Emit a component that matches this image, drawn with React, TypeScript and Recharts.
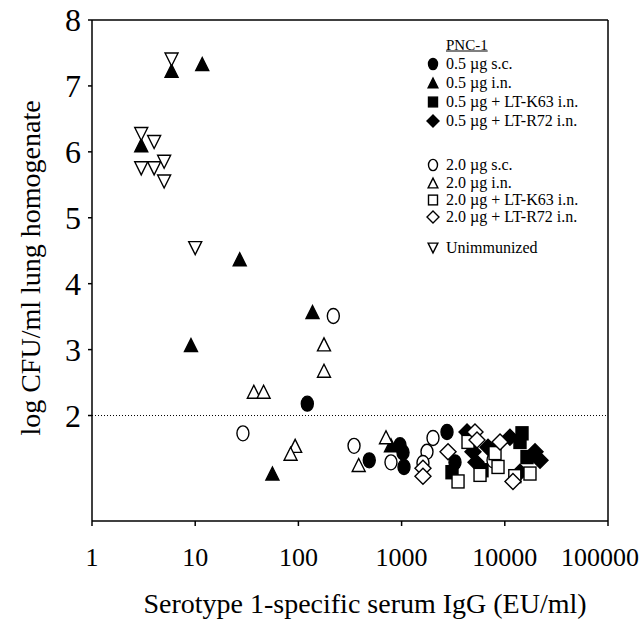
import {
  Legend,
  ReferenceLine,
  Scatter,
  ScatterChart,
  XAxis,
  YAxis,
} from "recharts";

const FONT = "Liberation Serif, DejaVu Serif, serif";

// x = serotype 1-specific serum IgG (EU/ml), y = log CFU/ml lung homogenate
const sc05 = [
  { x: 122, y: 2.18 },
  { x: 486, y: 1.32 },
  { x: 965, y: 1.55 },
  { x: 1032, y: 1.44 },
  { x: 1055, y: 1.22 },
  { x: 2754, y: 1.75 },
  { x: 3291, y: 1.29 },
];
const in05 = [
  { x: 5.9, y: 7.23 },
  { x: 11.7, y: 7.33 },
  { x: 3, y: 6.1 },
  { x: 27, y: 4.37 },
  { x: 137, y: 3.57 },
  { x: 9.1, y: 3.07 },
  { x: 56, y: 1.12 },
  { x: 789, y: 1.55 },
];
const k63_05 = [
  { x: 3079, y: 1.14 },
  { x: 6013, y: 1.17 },
  { x: 14680, y: 1.73 },
  { x: 14030, y: 1.6 },
  { x: 16410, y: 1.37 },
];
const r72_05 = [
  { x: 4305, y: 1.75 },
  { x: 4918, y: 1.45 },
  { x: 6876, y: 1.52 },
  { x: 11220, y: 1.67 },
  { x: 19630, y: 1.45 },
  { x: 21940, y: 1.32 },
  { x: 14030, y: 1.14 },
  { x: 5260, y: 1.29 },
];
const sc20 = [
  { x: 218, y: 3.51 },
  { x: 29, y: 1.73 },
  { x: 346, y: 1.54 },
  { x: 789, y: 1.29 },
  { x: 2015, y: 1.66 },
  { x: 1762, y: 1.45 },
  { x: 1611, y: 1.28 },
  { x: 7687, y: 1.32 },
];
const in20 = [
  { x: 177, y: 3.08 },
  { x: 177, y: 2.68 },
  { x: 37, y: 2.36 },
  { x: 46, y: 2.36 },
  { x: 93, y: 1.54 },
  { x: 84, y: 1.42 },
  { x: 384, y: 1.25 },
  { x: 706, y: 1.67 },
];
const k63_20 = [
  { x: 3523, y: 1.0 },
  { x: 4400, y: 1.6 },
  { x: 5754, y: 1.1 },
  { x: 8039, y: 1.43 },
  { x: 8596, y: 1.22 },
  { x: 17540, y: 1.12 },
  { x: 12500, y: 1.08 },
];
const r72_20 = [
  { x: 1611, y: 1.2 },
  { x: 1611, y: 1.08 },
  { x: 2818, y: 1.45 },
  { x: 5143, y: 1.75 },
  { x: 5379, y: 1.63 },
  { x: 8988, y: 1.6 },
  { x: 12000, y: 1.0 },
];
const unimmunized = [
  { x: 5.9, y: 7.4 },
  { x: 3, y: 6.27 },
  { x: 4, y: 6.15 },
  { x: 3, y: 5.75 },
  { x: 4, y: 5.75 },
  { x: 5, y: 5.85 },
  { x: 5, y: 5.55 },
  { x: 10, y: 4.54 },
];

const X_TICKS = [1, 10, 100, 1000, 10000, 100000];
const Y_TICKS = [2, 3, 4, 5, 6, 7, 8];

type Kind = "circle" | "triangle" | "square" | "diamond" | "down";

const SERIES: { name: string; kind: Kind; filled: boolean; data: any[] }[] = [
  { name: "0.5 \u00b5g s.c.", kind: "circle", filled: true, data: sc05 },
  { name: "0.5 \u00b5g i.n.", kind: "triangle", filled: true, data: in05 },
  { name: "0.5 \u00b5g + LT-K63 i.n.", kind: "square", filled: true, data: k63_05 },
  { name: "0.5 \u00b5g + LT-R72 i.n.", kind: "diamond", filled: true, data: r72_05 },
  { name: "2.0 \u00b5g s.c.", kind: "circle", filled: false, data: sc20 },
  { name: "2.0 \u00b5g i.n.", kind: "triangle", filled: false, data: in20 },
  { name: "2.0 \u00b5g + LT-K63 i.n.", kind: "square", filled: false, data: k63_20 },
  { name: "2.0 \u00b5g + LT-R72 i.n.", kind: "diamond", filled: false, data: r72_20 },
  { name: "Unimmunized", kind: "down", filled: false, data: unimmunized },
];

const marker = (kind: Kind, filled: boolean, cx: number, cy: number, s = 1) => {
  const fill = filled ? "#000" : "#fff";
  const common = { fill, stroke: "#000", strokeWidth: 1.4 };
  if (kind === "circle")
    return <ellipse cx={cx} cy={cy} rx={6 * s} ry={7.5 * s} {...common} />;
  if (kind === "square")
    return <rect x={cx - 6 * s} y={cy - 6.5 * s} width={12 * s} height={13 * s} {...common} />;
  if (kind === "diamond") {
    const r = 8 * s;
    return (
      <polygon
        points={`${cx},${cy - r} ${cx + r},${cy} ${cx},${cy + r} ${cx - r},${cy}`}
        {...common}
      />
    );
  }
  const w = 6.5 * s;
  const h = 6.5 * s;
  if (kind === "triangle")
    return (
      <polygon
        points={`${cx},${cy - h} ${cx + w},${cy + h} ${cx - w},${cy + h}`}
        {...common}
      />
    );
  return (
    <polygon
      points={`${cx - w},${cy - h} ${cx + w},${cy - h} ${cx},${cy + h}`}
      {...common}
    />
  );
};

const shapeFor = (kind: Kind, filled: boolean) => (props: any) =>
  marker(kind, filled, props.cx, props.cy);

const XTick = ({ x, y, payload, index }: any) => {
  const last = index === X_TICKS.length - 1;
  return (
    <text
      x={last ? 639 : x}
      y={y + 38}
      textAnchor={last ? "end" : "middle"}
      style={{ fontFamily: FONT }}
      fontSize={26}
      fill="#000"
    >
      {payload.value}
    </text>
  );
};

const YTick = ({ x, y, payload }: any) => (
  <text
    x={x - 5}
    y={y + 11}
    textAnchor="end"
    style={{ fontFamily: FONT }}
    fontSize={32}
    fill="#000"
  >
    {payload.value}
  </text>
);

const renderYTitle = () => (
  <text
    transform="translate(40,268) rotate(-90)"
    textAnchor="middle"
    style={{ fontFamily: FONT }}
    fontSize={28}
    fill="#000"
  >
    log CFU/ml lung homogenate
  </text>
);

const renderXTitle = () => (
  <text
    x={365}
    y={613}
    textAnchor="middle"
    style={{ fontFamily: FONT }}
    fontSize={28}
    fill="#000"
  >
    Serotype 1-specific serum IgG (EU/ml)
  </text>
);

const ROW_Y = [64, 83, 102, 121, 165, 183, 200, 217, 248];

const renderLegend = () => (
  <div
    style={{
      position: "relative",
      width: 200,
      height: 260,
      fontFamily: FONT,
      fontSize: 16,
      color: "#000",
    }}
  >
    <div
      style={{
        position: "absolute",
        left: 446,
        top: 45,
        transform: "translateY(-50%)",
        textDecoration: "underline",
        fontSize: 15,
        whiteSpace: "nowrap",
      }}
    >
      PNC-1
    </div>
    {SERIES.map((s, i) => (
      <div key={s.name}>
        <svg
          width={16}
          height={16}
          style={{ position: "absolute", left: 425, top: ROW_Y[i] - 8 }}
        >
          {marker(s.kind, s.filled, 8, 8, 0.75)}
        </svg>
        <div
          style={{
            position: "absolute",
            left: 446,
            top: ROW_Y[i],
            transform: "translateY(-50%)",
            whiteSpace: "nowrap",
            lineHeight: "18px",
          }}
        >
          {s.name}
        </div>
      </div>
    ))}
  </div>
);

export default function App() {
  return (
    <div
      style={{
        position: "absolute",
        left: 0,
        top: 0,
        width: 641,
        height: 634,
        background: "#fff",
        fontFamily: FONT,
      }}
    >
      <ScatterChart
        width={641}
        height={634}
        margin={{ top: 20, right: 33, bottom: 73, left: 0 }}
        style={{ fontFamily: FONT }}
      >
        <XAxis
          type="number"
          dataKey="x"
          scale="log"
          domain={[1, 100000]}
          ticks={X_TICKS}
          allowDataOverflow
          height={40}
          tick={<XTick />}
          tickSize={5}
          stroke="#000"
          strokeWidth={1.5}
          label={renderXTitle}
        />
        <YAxis
          type="number"
          dataKey="y"
          domain={[0.4, 8]}
          ticks={Y_TICKS}
          allowDataOverflow
          width={92}
          tick={<YTick />}
          tickSize={4}
          stroke="#000"
          strokeWidth={1.5}
          label={renderYTitle}
        />
        <ReferenceLine y={8} stroke="#000" strokeWidth={1.5} />
        <ReferenceLine x={100000} stroke="#000" strokeWidth={1.5} />
        <ReferenceLine
          y={2}
          stroke="#000"
          strokeWidth={1}
          strokeDasharray="1 2"
        />
        <Legend
          layout="vertical"
          align="center"
          verticalAlign="middle"
          content={renderLegend}
          wrapperStyle={{ position: "absolute", left: 0, top: 0, width: 641, height: 0 }}
        />
        {SERIES.map((s) => (
          <Scatter
            key={s.name}
            name={s.name}
            data={s.data}
            shape={shapeFor(s.kind, s.filled)}
            isAnimationActive={false}
          />
        ))}
      </ScatterChart>
    </div>
  );
}
